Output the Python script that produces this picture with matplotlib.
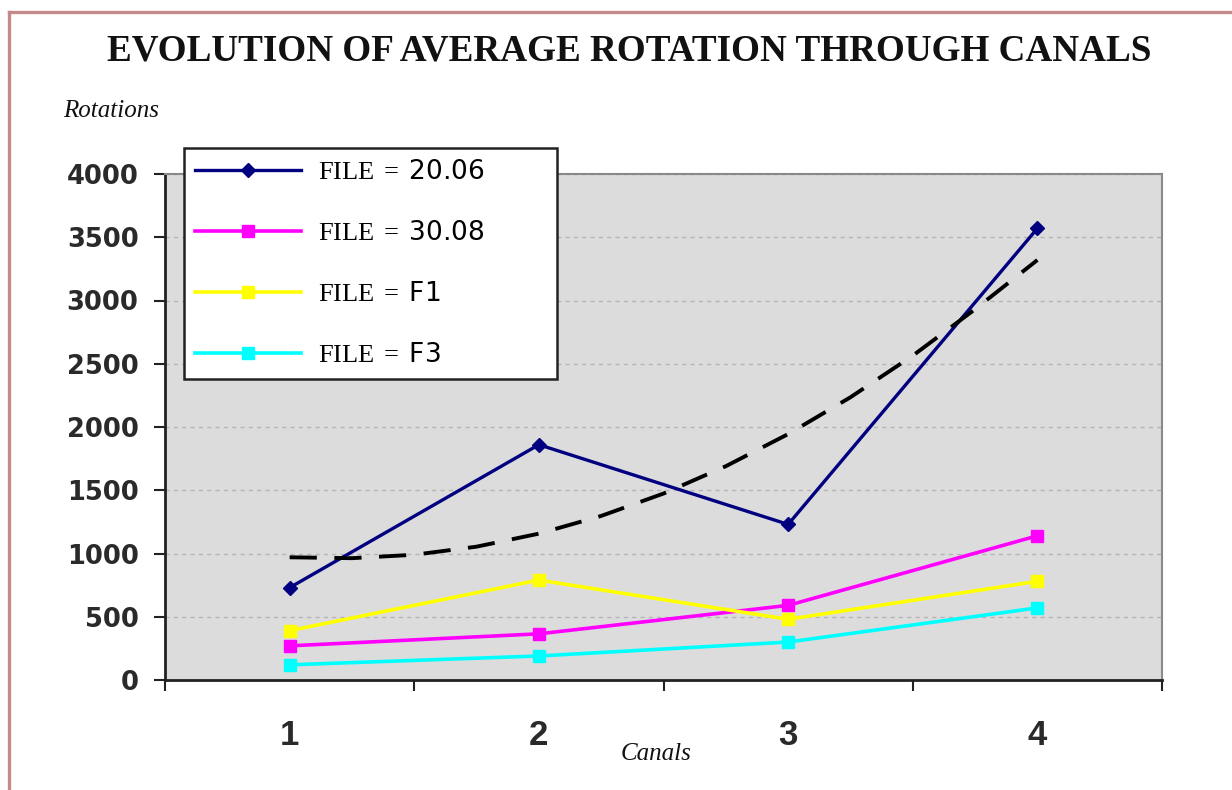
import matplotlib
matplotlib.use("Agg")
import matplotlib.pyplot as plt
from matplotlib.lines import Line2D

# ── data ──────────────────────────────────────────────────────────────────
canals = [1, 2, 3, 4]
file_2006 = [730, 1860, 1230, 3570]
file_3008 = [270, 365, 590, 1140]
file_f1 = [390, 790, 480, 780]
file_f3 = [120, 190, 300, 570]
# dashed trend curve (read at quarter steps)
trend_x = [1.0, 1.25, 1.5, 1.75, 2.0, 2.25, 2.5, 2.75, 3.0, 3.25, 3.5, 3.75, 4.0]
trend_y = [970, 963, 990, 1054, 1157, 1297, 1474, 1690, 1944, 2235, 2564, 2931, 3320]
y_ticks = [0, 500, 1000, 1500, 2000, 2500, 3000, 3500, 4000]
labels = ["20.06", "30.08", "F1", "F3"]

plt.rcParams["mathtext.fontset"] = "custom"
plt.rcParams["mathtext.rm"] = "Liberation Serif"
plt.rcParams["mathtext.sf"] = "DejaVu Sans"
plt.rcParams["mathtext.it"] = "Liberation Serif:italic"

W, H = 1232, 790
fig = plt.figure(figsize=(W / 100, H / 100), dpi=100)
fig.patch.set_facecolor("white")

# axes box in pixel coords of the reference
x0, x1, ytop, ybot = 165, 1162, 174, 680
ax = fig.add_axes([x0 / W, 1 - ybot / H, (x1 - x0) / W, (ybot - ytop) / H])
ax.set_facecolor("#dcdcdc")


def leg_label(v):
    return r"$\mathrm{FILE}\ =\ \mathsf{%s}$" % v


# ── series ────────────────────────────────────────────────────────────────
ax.plot(canals, file_2006, color="#000080", lw=2.4, marker="D", ms=7,
        zorder=3, label=leg_label(labels[0]))
ax.plot(canals, file_3008, color="#ff00ff", lw=2.6, marker="s", ms=9,
        zorder=3, label=leg_label(labels[1]))
ax.plot(canals, file_f1, color="#ffff00", lw=2.6, marker="s", ms=9,
        zorder=3, label=leg_label(labels[2]))
ax.plot(canals, file_f3, color="#00ffff", lw=2.6, marker="s", ms=9,
        zorder=3, label=leg_label(labels[3]))
ax.plot(trend_x, trend_y, color="black", lw=2.8, ls=(0, (7, 4.5)), zorder=4)

# ── axes styling ──────────────────────────────────────────────────────────
ax.set_xlim(0.5, 4.5)
ax.set_ylim(0, 4000)
ax.set_yticks(y_ticks)
ax.set_yticklabels([str(v) for v in y_ticks])
ax.set_xticks(canals)
ax.set_xticklabels([str(c) for c in canals])
ax.set_xticks([0.5, 1.5, 2.5, 3.5, 4.5], minor=True)
ax.tick_params(axis="x", which="major", length=0, pad=28, labelsize=25,
               labelcolor="#2a2a2a")
ax.tick_params(axis="x", which="minor", length=8, width=1.5, direction="out",
               color="#222222")
ax.tick_params(axis="y", length=8, width=1.5, direction="out", pad=11,
               labelsize=18.5, labelcolor="#2a2a2a", color="#222222")
for lab in ax.get_xticklabels():
    lab.set_fontfamily("Liberation Sans")
    lab.set_fontweight("bold")
for lab in ax.get_yticklabels():
    lab.set_fontfamily("DejaVu Sans")
    lab.set_fontweight("bold")

ax.grid(axis="y", color="#b4b4b4", lw=1.0, ls=(0, (3, 3)), zorder=1)
ax.set_axisbelow(True)

for side in ["left", "bottom"]:
    ax.spines[side].set_color("#222222")
    ax.spines[side].set_linewidth(2.0)
for side in ["top", "right"]:
    ax.spines[side].set_color("#8a8a8a")
    ax.spines[side].set_linewidth(1.5)

# ── legend ────────────────────────────────────────────────────────────────
lx0, lx1, ly0, ly1 = 184, 557, 148, 373
leg_box = ((lx0 - x0) / (x1 - x0), (ybot - ly1) / (ybot - ytop),
           (lx1 - lx0) / (x1 - x0), (ly1 - ly0) / (ybot - ytop))
leg = ax.legend(loc="upper left", bbox_to_anchor=leg_box, mode="expand",
                borderaxespad=0, fontsize=19, frameon=True, fancybox=False,
                handlelength=4.0, handletextpad=0.65, labelspacing=1.33,
                borderpad=0.42)
leg.get_frame().set_edgecolor("#222222")
leg.get_frame().set_linewidth(1.8)
leg.get_frame().set_facecolor("white")
leg.get_frame().set_alpha(1)
leg.set_zorder(5)

# ── titles ────────────────────────────────────────────────────────────────
fig.text(629 / W, 1 - 51 / H, "EVOLUTION OF AVERAGE ROTATION THROUGH CANALS",
         ha="center", va="center", fontsize=26.7, fontweight="bold",
         family="Liberation Serif", color="#111111")
fig.text(111 / W, 1 - 111 / H, "Rotations", ha="center", va="center",
         fontsize=18, style="italic", family="Liberation Serif", color="#111111")
fig.text(656 / W, 1 - 754 / H, "Canals", ha="center", va="center",
         fontsize=18, style="italic", family="Liberation Serif", color="#111111")

# rose frame on top and left
border = "#c48a8a"
fig.add_artist(Line2D([9 / W, 1], [1 - 12 / H, 1 - 12 / H], color=border,
                      lw=2.4, transform=fig.transFigure))
fig.add_artist(Line2D([9 / W, 9 / W], [0, 1 - 12 / H], color=border,
                      lw=2.4, transform=fig.transFigure))

fig.savefig("out.png", dpi=100)
